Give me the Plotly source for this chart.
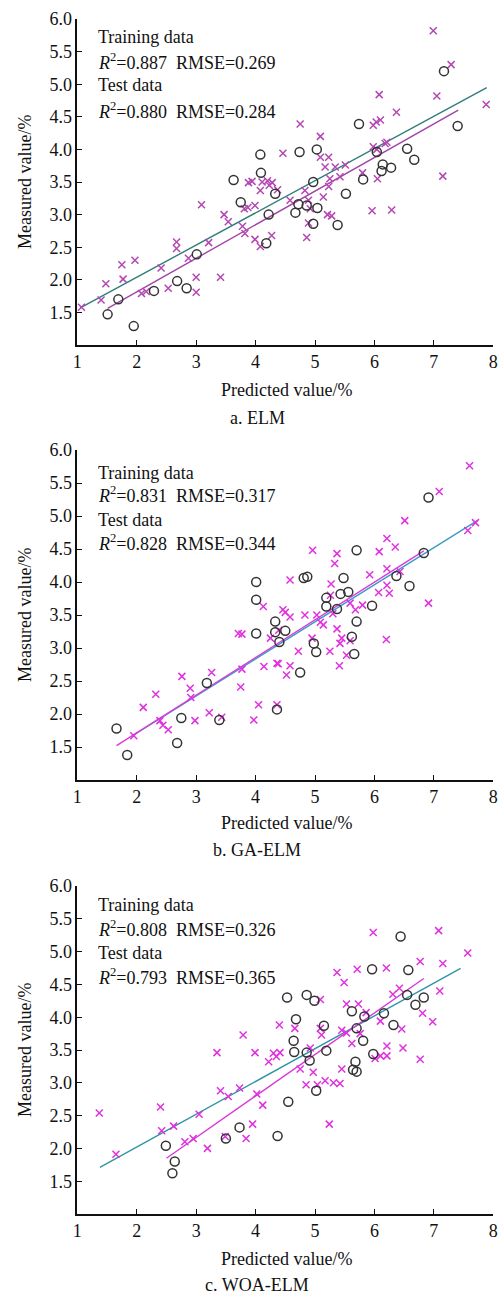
import plotly.graph_objects as go

# ---------------- data ----------------
panels = ["a. ELM", "b. GA-ELM", "c. WOA-ELM"]
train_stats = ["0.887", "0.831", "0.808"]
train_rmse = ["0.269", "0.317", "0.326"]
test_stats = ["0.880", "0.828", "0.793"]
test_rmse = ["0.284", "0.344", "0.365"]

x_ticks = [1, 2, 3, 4, 5, 6, 7, 8]
y_ticks = [1.5, 2.0, 2.5, 3.0, 3.5, 4.0, 4.5, 5.0, 5.5, 6.0]
y_tick_text = ["1.5", "2.0", "2.5", "3.0", "3.5", "4.0", "4.5", "5.0", "5.5", "6.0"]

# Panel a (ELM)
a_train_pred = [1.07, 1.40, 1.48, 1.75, 1.77, 1.97, 2.08, 2.16, 2.41, 2.53, 2.67, 2.67, 2.87, 3.00, 3.00,
                3.09, 3.21, 3.41, 3.47, 3.54, 3.78, 3.82, 3.81, 3.87, 3.88, 3.94, 3.99, 3.99, 4.08, 4.08,
                4.11, 4.20, 4.28, 4.23, 4.27, 4.37, 4.46, 4.58, 4.75, 4.83, 4.86, 4.89, 4.89, 4.92, 5.09,
                5.09, 5.14, 5.17, 5.21, 5.23, 5.23, 5.25, 5.28, 5.34, 5.42, 5.51, 5.80, 5.96, 5.98, 5.98,
                6.03, 6.04, 6.05, 6.08, 6.10, 6.18, 6.21, 6.29, 6.37, 6.99, 7.05, 7.15, 7.29, 7.88]
a_train_meas = [1.58, 1.69, 1.94, 2.23, 2.01, 2.30, 1.79, 1.82, 2.18, 1.87, 2.58, 2.48, 2.33, 2.04, 1.81,
                3.15, 2.57, 2.04, 3.00, 2.89, 2.82, 2.71, 3.09, 3.11, 3.49, 3.51, 3.14, 2.62, 2.51, 3.37,
                3.50, 3.52, 3.49, 3.45, 2.68, 3.38, 3.94, 3.22, 4.39, 3.37, 2.65, 3.22, 2.87, 3.09, 4.20,
                3.88, 3.27, 3.73, 3.00, 3.88, 3.43, 3.55, 2.98, 3.73, 3.58, 3.76, 3.64, 3.06, 4.37, 4.04,
                4.42, 4.00, 3.55, 4.84, 4.45, 4.09, 4.11, 3.07, 4.57, 5.82, 4.82, 3.59, 5.30, 4.69]
a_test_pred = [1.51, 1.69, 1.95, 2.29, 2.68, 2.84, 3.01, 3.63, 3.75, 4.08, 4.09, 4.18, 4.22, 4.33, 4.67,
               4.72, 4.74, 4.86, 4.97, 4.97, 5.03, 5.04, 5.38, 5.52, 5.74, 5.81, 6.04, 6.12, 6.14, 6.28,
               6.55, 6.67, 7.17, 7.40]
a_test_meas = [1.47, 1.70, 1.29, 1.83, 1.98, 1.87, 2.39, 3.53, 3.19, 3.92, 3.64, 2.56, 3.00, 3.32, 3.03,
               3.16, 3.96, 3.14, 3.50, 2.86, 4.00, 3.10, 2.84, 3.32, 4.39, 3.54, 3.96, 3.67, 3.77, 3.72,
               4.01, 3.84, 5.20, 4.36]

# Panel b (GA-ELM)
b_train_pred = [1.95, 2.11, 2.32, 2.39, 2.44, 2.53, 2.76, 2.90, 2.91, 2.98, 3.22, 3.26, 3.43, 3.71, 3.75,
                3.77, 3.77, 3.97, 4.05, 4.13, 4.14, 4.25, 4.36, 4.36, 4.38, 4.39, 4.46, 4.50, 4.52, 4.58,
                4.58, 4.58, 4.72, 4.83, 4.95, 4.96, 5.03, 5.09, 5.14, 5.25, 5.26, 5.27, 5.30, 5.33, 5.37,
                5.37, 5.41, 5.42, 5.45, 5.53, 5.59, 5.59, 5.68, 5.80, 5.92, 6.07, 6.08, 6.20, 6.21, 6.21,
                6.21, 6.25, 6.35, 6.43, 6.51, 6.91, 7.09, 7.57, 7.60, 7.70]
b_train_meas = [1.67, 2.10, 2.30, 1.90, 1.83, 1.76, 2.57, 2.39, 2.25, 1.90, 2.02, 2.63, 1.95, 3.22, 2.41,
                2.68, 3.21, 1.91, 2.14, 3.63, 2.72, 3.15, 2.14, 2.77, 2.76, 3.27, 3.58, 3.54, 2.59, 4.03,
                3.47, 2.73, 2.95, 3.50, 3.15, 4.48, 3.50, 3.39, 3.35, 2.95, 3.80, 3.97, 3.52, 4.28, 4.43,
                3.29, 2.73, 3.07, 3.15, 2.89, 3.11, 3.68, 3.58, 3.65, 4.11, 3.84, 4.46, 3.13, 4.20, 4.66,
                3.95, 3.83, 4.53, 4.16, 4.93, 3.68, 5.37, 4.78, 5.76, 4.90]
b_test_pred = [1.66, 1.84, 2.68, 2.75, 3.18, 3.39, 4.01, 4.01, 4.01, 4.33, 4.33, 4.36, 4.40, 4.50, 4.75,
               4.81, 4.87, 4.98, 5.02, 5.19, 5.19, 5.37, 5.43, 5.48, 5.56, 5.62, 5.66, 5.70, 5.70, 5.96,
               6.37, 6.59, 6.83, 6.91]
b_test_meas = [1.78, 1.38, 1.56, 1.94, 2.47, 1.91, 4.00, 3.73, 3.22, 3.40, 3.24, 2.07, 3.09, 3.26, 2.63,
               4.06, 4.08, 3.07, 2.94, 3.76, 3.63, 3.59, 3.82, 4.06, 3.85, 3.17, 2.91, 4.48, 3.40, 3.64,
               4.09, 3.94, 4.44, 5.28]

# Panel c (WOA-ELM)
c_train_pred = [1.37, 1.65, 2.40, 2.42, 2.62, 2.81, 2.95, 3.05, 3.19, 3.35, 3.41, 3.49, 3.54, 3.73, 3.79,
                3.84, 3.95, 3.99, 4.02, 4.12, 4.22, 4.30, 4.35, 4.40, 4.41, 4.66, 4.75, 4.85, 4.92, 4.97,
                5.04, 5.09, 5.09, 5.11, 5.17, 5.24, 5.31, 5.37, 5.42, 5.45, 5.45, 5.49, 5.53, 5.53, 5.62,
                5.71, 5.73, 5.76, 5.86, 5.98, 6.01, 6.10, 6.10, 6.20, 6.21, 6.21, 6.31, 6.42, 6.46, 6.48,
                6.77, 6.77, 6.81, 6.98, 7.08, 7.10, 7.15, 7.57]
c_train_meas = [2.54, 1.91, 2.63, 2.27, 2.34, 2.10, 2.15, 2.52, 2.00, 3.46, 2.88, 2.18, 2.79, 2.92, 3.73,
                2.15, 2.37, 3.46, 2.83, 2.66, 3.32, 3.45, 3.40, 3.88, 3.46, 3.83, 3.21, 2.97, 3.53, 3.16,
                2.97, 4.27, 3.83, 3.73, 3.03, 2.37, 3.00, 4.68, 2.99, 3.21, 3.80, 4.53, 4.20, 3.76, 3.60,
                4.73, 4.20, 3.75, 4.07, 5.29, 3.37, 3.94, 3.41, 4.75, 3.56, 3.41, 4.35, 4.44, 3.82, 3.53,
                4.85, 3.36, 4.06, 3.93, 5.32, 4.40, 4.82, 4.98]
c_test_pred = [2.49, 2.60, 2.64, 3.50, 3.73, 4.37, 4.53, 4.55, 4.64, 4.65, 4.68, 4.86, 4.86, 4.91, 4.99,
               5.02, 5.15, 5.19, 5.62, 5.64, 5.68, 5.70, 5.70, 5.81, 5.83, 5.96, 5.98, 6.16, 6.32, 6.44,
               6.55, 6.57, 6.69, 6.83]
c_test_meas = [2.04, 1.62, 1.80, 2.15, 2.32, 2.19, 4.30, 2.71, 3.64, 3.47, 3.97, 4.34, 3.46, 3.34, 4.25,
               2.88, 3.87, 3.49, 4.09, 3.20, 3.32, 3.17, 3.83, 3.64, 4.01, 4.73, 3.44, 4.06, 3.88, 5.23,
               4.34, 4.72, 4.19, 4.30]

# fitted lines: [x_start, x_end], slope, intercept
train_fit_range = [[1.05, 7.89], [1.95, 7.73], [1.38, 7.45]]
train_fit_slope = [0.494, 0.562, 0.500]
train_fit_icpt = [1.051, 0.586, 1.020]
test_fit_range = [[1.51, 7.41], [1.66, 6.83], [2.50, 6.83]]
test_fit_slope = [0.515, 0.571, 0.633]
test_fit_icpt = [0.785, 0.572, 0.267]

train_pred = [a_train_pred, b_train_pred, c_train_pred]
train_meas = [a_train_meas, b_train_meas, c_train_meas]
test_pred = [a_test_pred, b_test_pred, c_test_pred]
test_meas = [a_test_meas, b_test_meas, c_test_meas]

# ---------------- styling ----------------
W, H = 501, 1296
FONT = "Liberation Serif, Times New Roman, serif"
cross_colors = ["#b347b3", "#e031e0", "#e031e0"]
train_line_colors = ["#2e7d78", "#3a9cc8", "#2f93a8"]
test_line_colors = ["#a043a8", "#d83ad8", "#d838d8"]

# pixel geometry for each panel: (top px, bottom px)
panel_px = [(19, 345), (450, 780), (886, 1214)]
x_left_px, x_right_px = 77.3, 493.3
text_rows = [[37, 62, 85, 110], [473, 495, 520, 542], [905, 928, 953, 976]]
xlabel_py = [390, 823, 1259]
sub_py = [418, 850, 1285]

fig = go.Figure()
annotations = []
layout = dict(width=W, height=H, margin=dict(l=0, r=0, t=0, b=0),
              paper_bgcolor="white", plot_bgcolor="white", showlegend=False,
              font=dict(family=FONT, size=18, color="#111"))

def py2paper(py):
    return 1 - py / H

for i in range(3):
    xa = "x" if i == 0 else f"x{i+1}"
    ya = "y" if i == 0 else f"y{i+1}"
    xkey = "xaxis" if i == 0 else f"xaxis{i+1}"
    ykey = "yaxis" if i == 0 else f"yaxis{i+1}"
    top, bot = panel_px[i]
    layout[xkey] = dict(domain=[x_left_px / W, x_right_px / W], anchor=ya, range=[1, 8],
                        tickvals=x_ticks, ticks="inside", ticklen=5, tickwidth=1.3,
                        tickcolor="#111", showline=True, linecolor="#111", linewidth=1.6,
                        showgrid=False, zeroline=False, automargin=False,
                        ticklabeloverflow="allow",
                        tickfont=dict(family=FONT, size=18, color="#111"))
    layout[ykey] = dict(domain=[py2paper(bot), py2paper(top)], anchor=xa, range=[1, 6],
                        tickvals=y_ticks, ticktext=y_tick_text, ticks="inside", ticklen=5,
                        tickwidth=1.3, tickcolor="#111", showline=True, linecolor="#111",
                        linewidth=1.6, showgrid=False, zeroline=False, automargin=False,
                        ticklabeloverflow="allow",
                        tickfont=dict(family=FONT, size=18, color="#111"))

    # fit lines
    x0, x1 = train_fit_range[i]
    fig.add_trace(go.Scatter(x=[x0, x1],
                             y=[train_fit_icpt[i] + train_fit_slope[i] * x0,
                                train_fit_icpt[i] + train_fit_slope[i] * x1],
                             mode="lines", line=dict(color=train_line_colors[i], width=1.4),
                             xaxis=xa, yaxis=ya))
    x0, x1 = test_fit_range[i]
    fig.add_trace(go.Scatter(x=[x0, x1],
                             y=[test_fit_icpt[i] + test_fit_slope[i] * x0,
                                test_fit_icpt[i] + test_fit_slope[i] * x1],
                             mode="lines", line=dict(color=test_line_colors[i], width=1.4),
                             xaxis=xa, yaxis=ya))
    # training (crosses)
    fig.add_trace(go.Scatter(x=train_pred[i], y=train_meas[i], mode="markers",
                             marker=dict(symbol="x-thin-open", size=7, color=cross_colors[i],
                                         line=dict(color=cross_colors[i], width=1.5)),
                             cliponaxis=False, xaxis=xa, yaxis=ya))
    # test (circles)
    fig.add_trace(go.Scatter(x=test_pred[i], y=test_meas[i], mode="markers",
                             marker=dict(symbol="circle-open", size=9, color="#333",
                                         line=dict(color="#333", width=1.5)),
                             cliponaxis=False, xaxis=xa, yaxis=ya))

    # text block
    lines_txt = ["Training data",
                 f"<i>R</i><sup>2</sup>={train_stats[i]}\u00a0\u00a0RMSE={train_rmse[i]}",
                 "Test data",
                 f"<i>R</i><sup>2</sup>={test_stats[i]}\u00a0\u00a0RMSE={test_rmse[i]}"]
    for t, yy in zip(lines_txt, text_rows[i]):
        annotations.append(dict(text=t, xref="paper", yref="paper", x=95.5 / W, y=py2paper(yy),
                                xanchor="left", yanchor="middle", showarrow=False,
                                font=dict(family=FONT, size=18, color="#111")))
    # axis titles
    annotations.append(dict(text="Predicted value/%", xref="paper", yref="paper",
                            x=286 / W, y=py2paper(xlabel_py[i]), xanchor="center",
                            yanchor="middle", showarrow=False,
                            font=dict(family=FONT, size=18, color="#111")))
    annotations.append(dict(text="Measured value/%", xref="paper", yref="paper",
                            x=25 / W, y=py2paper((top + bot) / 2), xanchor="center",
                            yanchor="middle", textangle=-90, showarrow=False,
                            font=dict(family=FONT, size=18, color="#111")))
    annotations.append(dict(text=panels[i], xref="paper", yref="paper",
                            x=257 / W, y=py2paper(sub_py[i]), xanchor="center",
                            yanchor="middle", showarrow=False,
                            font=dict(family=FONT, size=18, color="#111")))

layout["annotations"] = annotations
fig.update_layout(**layout)
fig.write_html("out.html", config={"displayModeBar": False},
               post_script="document.body.style.margin='0';document.body.style.overflow='hidden';")
